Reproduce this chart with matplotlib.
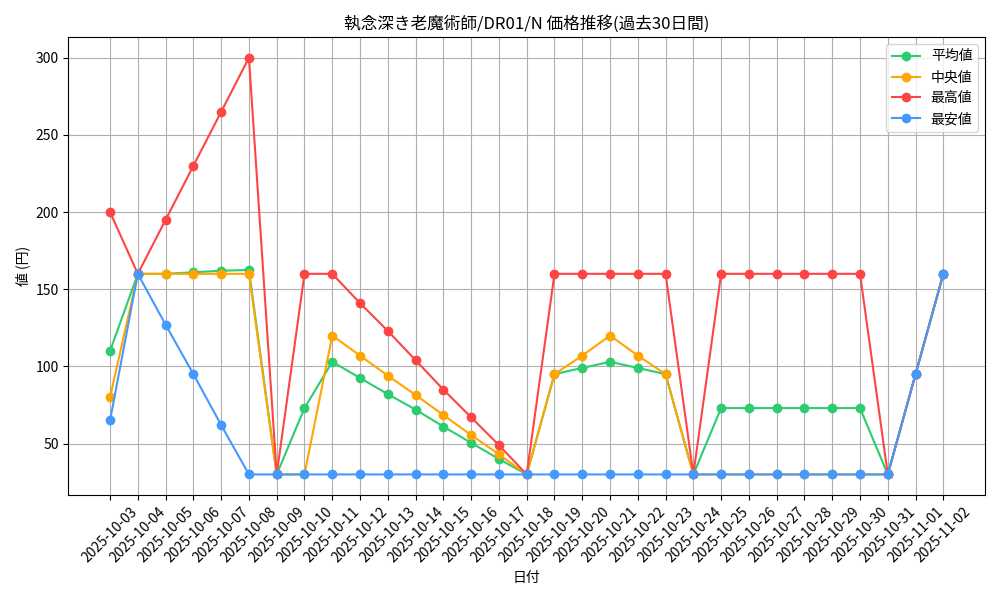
import matplotlib
matplotlib.use("Agg")
import matplotlib.pyplot as plt
import pandas as pd

plt.rcParams['font.family'] = ['Noto Sans CJK JP', 'DejaVu Sans']

dates = [d.strftime('%Y-%m-%d') for d in pd.date_range('2025-10-03', '2025-11-02')]
avg = [110,160,160,161,162,162.5,30,73,103,92.5,82,72,61,50.5,40,30,95,99,103,99,95,30,73,73,73,73,73,73,30,95,160]
med = [80,160,160,160,160,160,30,30,120,107,94,81.5,68.5,55.5,43,30,95,107,120,107,95,30,30,30,30,30,30,30,30,95,160]
mx = [200,160,195,230,265,300,30,160,160,141,123,104,85,67,49,30,160,160,160,160,160,30,160,160,160,160,160,160,30,95,160]
mn = [65,160,127,95,62,30,30,30,30,30,30,30,30,30,30,30,30,30,30,30,30,30,30,30,30,30,30,30,30,95,160]

fig, ax = plt.subplots(figsize=(10, 6), dpi=100)
x = range(len(dates))
ax.plot(x, avg, marker='o', color='#2ecc71', label='平均値')
ax.plot(x, med, marker='o', color='#ffa500', label='中央値')
ax.plot(x, mx, marker='o', color='#ff4444', label='最高値')
ax.plot(x, mn, marker='o', color='#4499ff', label='最安値')
ax.set_xticks(list(x))
ax.set_xticklabels(dates, rotation=45)
ax.grid(True)
ax.set_title('執念深き老魔術師/DR01/N 価格推移(過去30日間)')
ax.set_xlabel('日付')
ax.set_ylabel('値 (円)')
ax.legend(loc='upper right')
fig.tight_layout()
fig.savefig('out.png')
